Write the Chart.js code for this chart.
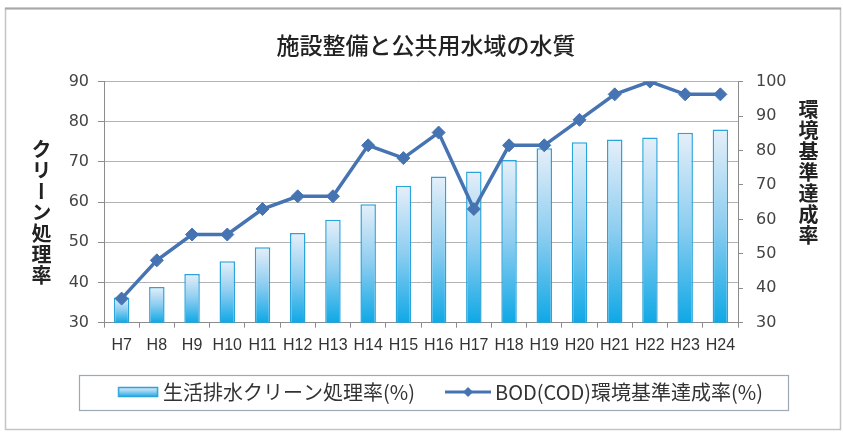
<!DOCTYPE html>
<html lang="ja">
<head>
<meta charset="utf-8">
<script src="https://cdn.jsdelivr.net/npm/chart.js@4.4.1/dist/chart.umd.min.js"></script>
<style>
  html, body { margin: 0; padding: 0; background: #fff; }
  #wrap { position: relative; width: 843px; height: 432px; }
  .vtitle {
    position: absolute;
    writing-mode: vertical-rl;
    text-orientation: upright;
    font: bold 20px "Noto Sans CJK JP", sans-serif;
    letter-spacing: 1px;
    line-height: 22px;
    color: #222;
  }
</style>
</head>
<body>
<div id="wrap">
  <canvas id="chart" width="843" height="432"></canvas>
  <div class="vtitle" style="left:30px; top:139px;">クリーン処理率</div>
  <div class="vtitle" style="left:797px; top:99px;">環境基準達成率</div>
</div>
<script>
/* ---------- data ---------- */
const years = ["H7", "H8", "H9", "H10", "H11", "H12", "H13", "H14", "H15",
  "H16", "H17", "H18", "H19", "H20", "H21", "H22", "H23", "H24"];

// 生活排水クリーン処理率(%) — left axis
const cleanRate = [36.3, 38.9, 42.1, 45.3, 48.8, 52.3, 55.6, 59.5, 64.1,
  66.4, 67.6, 70.5, 73.4, 74.9, 75.6, 76.1, 77.3, 78.1];

// BOD(COD)環境基準達成率(%) — right axis
const bodRate = [37.0, 48.1, 55.6, 55.6, 63.0, 66.7, 66.7, 81.5, 77.8,
  85.2, 63.0, 81.5, 81.5, 88.9, 96.3, 100, 96.3, 96.3];

const seriesNames = ["生活排水クリーン処理率(%)", "BOD(COD)環境基準達成率(%)"];
const leftRange = [30, 90];
const rightRange = [30, 100];

/* ---------- colours ---------- */
const LINE_COLOR = "#4674b2";
const BAR_BORDER = "#2ba4dc";
const GRID_COLOR = "#b2b2b2";
const AXIS_COLOR = "#8c8c8c";

function barGradient(ctx, top, bottom) {
  const g = ctx.createLinearGradient(0, top, 0, bottom);
  g.addColorStop(0, "#e6eff9");
  g.addColorStop(0.5, "#8ccdf0");
  g.addColorStop(1, "#0fa8e6");
  return g;
}

// legend symbols drawn to small canvases
function makeBarSwatch() {
  const c = document.createElement("canvas");
  c.width = 46; c.height = 12;
  const x = c.getContext("2d");
  x.fillStyle = barGradient(x, 1, 11);
  x.fillRect(5, 1, 40, 10);
  x.strokeStyle = BAR_BORDER;
  x.lineWidth = 1.5;
  x.strokeRect(5.5, 1.5, 39, 9);
  return c;
}

function makeLineSwatch() {
  const c = document.createElement("canvas");
  c.width = 46; c.height = 14;
  const x = c.getContext("2d");
  x.strokeStyle = LINE_COLOR;
  x.lineWidth = 3;
  x.beginPath();
  x.moveTo(0, 7);
  x.lineTo(46, 7);
  x.stroke();
  x.fillStyle = LINE_COLOR;
  x.beginPath();
  x.moveTo(23, 2); x.lineTo(28, 7); x.lineTo(23, 12); x.lineTo(18, 7);
  x.closePath();
  x.fill();
  return c;
}

const barSwatch = makeBarSwatch();
const lineSwatch = makeLineSwatch();

/* ---------- plugins ---------- */
const framePlugin = {
  id: "frame",
  afterLayout(chart) {
    // the legend row sits a little right of centre and close under the axis
    const lg = chart.legend;
    if (!lg) return;
    const dx = 15, dy = 346 - lg.top;
    lg.left += dx; lg.right += dx;
    lg.top += dy; lg.bottom += dy;
  },
  beforeDraw(chart) {
    const ctx = chart.ctx;
    ctx.save();
    ctx.fillStyle = "#fff";
    ctx.fillRect(0, 0, chart.width, chart.height);
    ctx.strokeStyle = "#c4c4c4";
    ctx.lineWidth = 1.5;
    ctx.strokeRect(5.5, 8.5, 835, 421);
    ctx.strokeStyle = "#a8a8a8";
    ctx.lineWidth = 2;
    ctx.beginPath();
    ctx.moveTo(5, 8.5);
    ctx.lineTo(841, 8.5);
    ctx.stroke();
    ctx.restore();
  },
  afterDraw(chart) {
    // border round the legend
    const hb = chart.legend && chart.legend.legendHitBoxes;
    if (!hb || !hb.length) return;
    const last = hb[hb.length - 1];
    const left = hb[0].left - 40;
    const right = last.left + last.width + 25;
    const cy = hb[0].top + hb[0].height / 2;
    const ctx = chart.ctx;
    ctx.save();
    ctx.strokeStyle = "#9ca8b6";
    ctx.lineWidth = 1.2;
    ctx.strokeRect(Math.round(left) + 0.5, Math.round(cy - 17.5) + 0.5,
      Math.round(right - left), 35);
    ctx.restore();
  },
};

/* ---------- chart ---------- */
const tickFont = { family: "DejaVu Sans", size: 16 };

new Chart(document.getElementById("chart"), {
  data: {
    labels: years,
    datasets: [
      {
        type: "bar",
        label: seriesNames[0],
        data: cleanRate,
        yAxisID: "y",
        order: 2,
        backgroundColor: (c) => {
          const chart = c.chart;
          if (!chart.chartArea || !c.parsed) return "#6cc3ee";
          const ys = chart.scales.y;
          return barGradient(chart.ctx, ys.getPixelForValue(c.parsed.y),
            ys.getPixelForValue(ys.min));
        },
        borderColor: BAR_BORDER,
        borderWidth: 1.5,
        barPercentage: 0.44,
        categoryPercentage: 1,
      },
      {
        type: "line",
        label: seriesNames[1],
        data: bodRate,
        yAxisID: "y1",
        order: 1,
        borderColor: LINE_COLOR,
        backgroundColor: LINE_COLOR,
        borderWidth: 3.5,
        tension: 0,
        pointStyle: "rectRot",
        pointRadius: 6.5,
        pointBackgroundColor: LINE_COLOR,
        pointBorderColor: LINE_COLOR,
        pointBorderWidth: 1,
      },
    ],
  },
  options: {
    responsive: false,
    animation: false,
    layout: { padding: { left: 64, right: 55, top: 0, bottom: 9.3 } },
    plugins: {
      tooltip: { enabled: false },
      title: {
        display: true,
        text: "施設整備と公共用水域の水質",
        color: "#222",
        font: { family: "Noto Sans CJK JP", size: 23, weight: 500 },
        padding: { top: 31, bottom: 23 },
      },
      legend: {
        position: "bottom",
        labels: {
          usePointStyle: true,
          pointStyleWidth: 34,
          padding: 36,
          color: "#333",
          font: { family: "Noto Sans CJK JP", size: 20 },
          generateLabels: () => [
            { text: seriesNames[0], pointStyle: barSwatch, datasetIndex: 0,
              fillStyle: "#6cc3ee", strokeStyle: BAR_BORDER, lineWidth: 0, hidden: false, fontColor: "#333" },
            { text: seriesNames[1], pointStyle: lineSwatch, datasetIndex: 1,
              fillStyle: LINE_COLOR, strokeStyle: LINE_COLOR, lineWidth: 0, hidden: false, fontColor: "#333" },
          ],
        },
      },
    },
    scales: {
      x: {
        offset: true,
        afterFit: (s) => { s.height = 34; },
        grid: {
          offset: true,
          drawOnChartArea: false,
          drawTicks: true,
          tickLength: 5,
          color: AXIS_COLOR,
        },
        border: { color: AXIS_COLOR },
        ticks: {
          color: "#333",
          padding: 8,
          maxRotation: 0,
          autoSkip: false,
          font: { family: "Liberation Sans", size: 16 },
        },
      },
      y: {
        position: "left",
        min: leftRange[0],
        max: leftRange[1],
        afterFit: (s) => { s.width = 40; },
        grid: { color: GRID_COLOR, tickLength: 6, tickColor: AXIS_COLOR },
        border: { color: AXIS_COLOR },
        ticks: { stepSize: 10, padding: 9, color: "#444", font: tickFont },
      },
      y1: {
        position: "right",
        min: rightRange[0],
        max: rightRange[1],
        afterFit: (s) => { s.width = 50; },
        grid: { drawOnChartArea: false, tickLength: 5, color: AXIS_COLOR },
        border: { color: AXIS_COLOR },
        ticks: { stepSize: 10, padding: 13, color: "#444", font: tickFont },
      },
    },
  },
  plugins: [framePlugin],
});
</script>
</body>
</html>
